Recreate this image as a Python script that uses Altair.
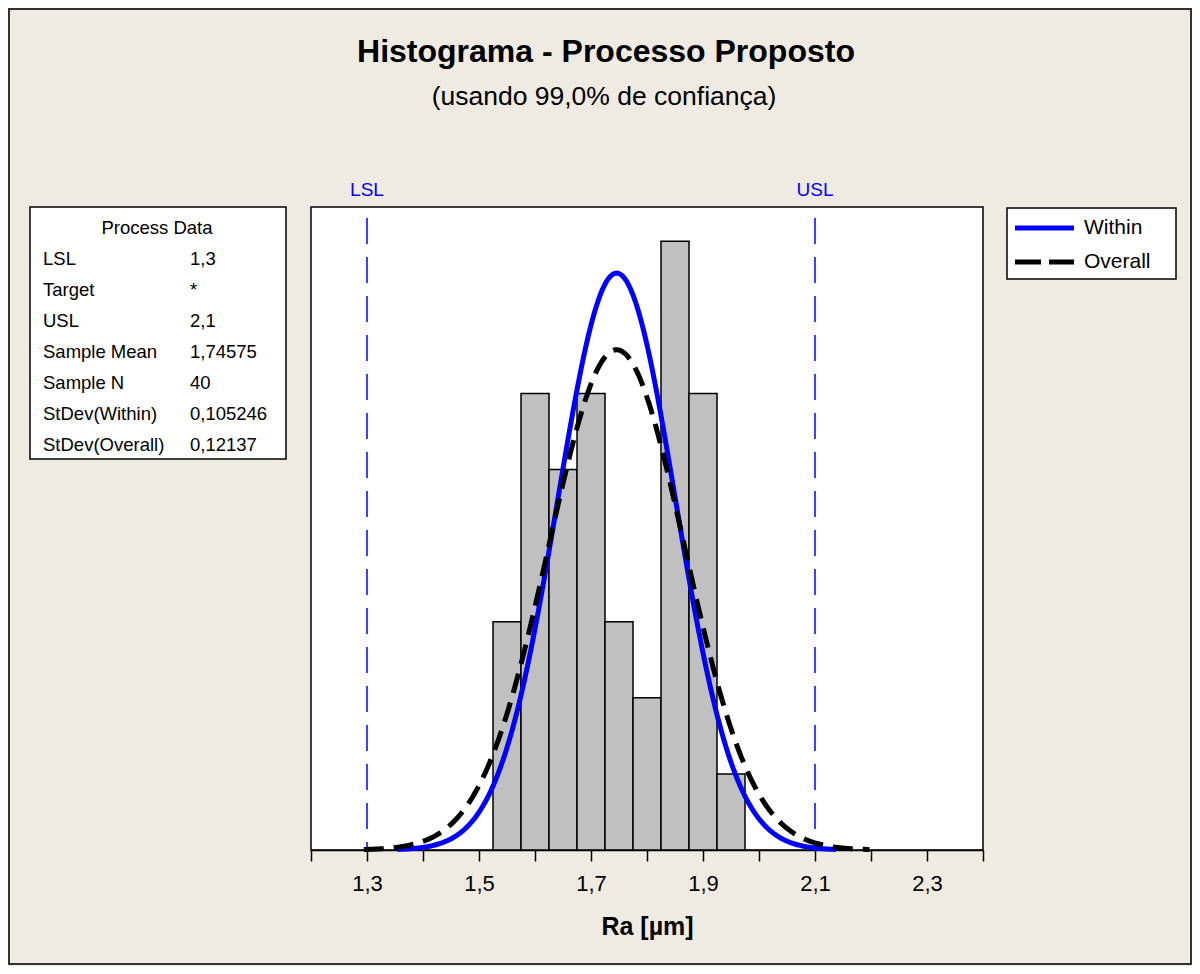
import altair as alt
import pandas as pd

# ---------------- data ----------------
bin_starts = [1.525, 1.575, 1.625, 1.675, 1.725, 1.775, 1.825, 1.875, 1.925]
bin_width = 0.05
counts = [3, 6, 5, 6, 3, 2, 8, 6, 1]

spec_names = ["LSL", "USL"]
spec_values = [1.3, 2.1]

sample_mean = 1.74575
sample_n = 40
sd_within = 0.105246
sd_overall = 0.12137

x_ticks = [1.2, 1.3, 1.4, 1.5, 1.6, 1.7, 1.8, 1.9, 2.0, 2.1, 2.2, 2.3, 2.4]

table_header = "Process Data"
table_labels = ["LSL", "Target", "USL", "Sample Mean", "Sample N",
                "StDev(Within)", "StDev(Overall)"]
table_values = ["1,3", "*", "2,1", "1,74575", "40", "0,105246", "0,12137"]

legend_names = ["Within", "Overall"]

title_text = "Histograma - Processo Proposto"
subtitle_text = "(usando 99,0% de confiança)"
x_title = "Ra [µm]"

FONT = "Liberation Sans"
BLUE = "#0000FF"
W, H = 672, 643

bars_df = pd.DataFrame({
    "start": bin_starts,
    "end": [b + bin_width for b in bin_starts],
    "count": counts,
})
spec_df = pd.DataFrame({"name": spec_names, "value": spec_values})
one = pd.DataFrame({"k": [0]})

xscale = alt.Scale(domain=[1.2, 2.4], nice=False, zero=False)
yscale = alt.Scale(domain=[0, 8.45], nice=False, zero=True)

xaxis = alt.Axis(
    values=x_ticks,
    labelExpr="round(datum.value*10) % 2 == 1 ? replace(format(datum.value, '.1f'), '.', ',') : ''",
    labelOverlap=False, labelFlush=False,
    grid=False, domainColor="black", domainWidth=1.5,
    tickColor="black", tickWidth=1.5, tickSize=11,
    labelFontSize=22, labelColor="black", labelPadding=12, labelFont=FONT,
    title=x_title, titleFontSize=25, titleFontWeight="bold", titleColor="black",
    titleFont=FONT, titlePadding=20,
)

bars = alt.Chart(bars_df).mark_rect(
    fill="#C0C0C0", stroke="black", strokeWidth=1.5
).encode(
    x=alt.X("start:Q", scale=xscale, axis=xaxis),
    x2="end:Q",
    y=alt.Y("count:Q", scale=yscale, axis=None),
    y2=alt.datum(0),
)

spec_lines = alt.Chart(spec_df).mark_rule(
    color=BLUE, strokeWidth=1.5, strokeDash=[26, 13], strokeDashOffset=28
).encode(x="value:Q")

spec_text = alt.Chart(spec_df).mark_text(
    color=BLUE, fontSize=19, font=FONT, baseline="middle", align="center"
).encode(x="value:Q", y=alt.value(-17), text="name:N")


def curve(sd, **mark):
    k = 3.72
    return alt.Chart(alt.sequence(0, 1.0001, 0.002, as_="t")).transform_calculate(
        xv=f"{sample_mean} + (2*datum.t - 1)*{k}*{sd}"
    ).transform_calculate(
        dens=f"{sample_n*bin_width}/({sd}*sqrt(2*PI))*exp(-0.5*pow((datum.xv-{sample_mean})/{sd}, 2))"
    ).mark_line(**mark).encode(
        x="xv:Q", y="dens:Q", order="t:Q"
    )


within = curve(sd_within, color=BLUE, strokeWidth=5)
overall = curve(sd_overall, color="black", strokeWidth=5, strokeDash=[20, 10], strokeCap="butt")

# ---- titles ----
title = alt.Chart(one).mark_text(
    text=title_text, fontSize=32, fontWeight="bold", font=FONT, color="black",
    baseline="middle", align="center"
).encode(x=alt.value(295), y=alt.value(-155))
subtitle = alt.Chart(one).mark_text(
    text=subtitle_text, fontSize=26.5, font=FONT, color="black",
    baseline="middle", align="center"
).encode(x=alt.value(293), y=alt.value(-110))

# ---- outer frame ----
outer = alt.Chart(one).mark_rect(fillOpacity=0, stroke="#333333", strokeWidth=2).encode(
    x=alt.value(-302), x2=alt.value(880), y=alt.value(-198), y2=alt.value(757)
)

# ---- process data box ----
pbox = alt.Chart(one).mark_rect(fill="white", stroke="black", strokeWidth=1.5).encode(
    x=alt.value(-281), x2=alt.value(-25), y=alt.value(0), y2=alt.value(252)
)
phead = alt.Chart(one).mark_text(
    text=table_header, fontSize=18.5, font=FONT, color="black", align="center",
    baseline="alphabetic"
).encode(x=alt.value(-154), y=alt.value(27))
plabels = alt.Chart(one).mark_text(
    text=table_labels, fontSize=18.5, font=FONT, color="black", align="left",
    baseline="alphabetic", lineHeight=31
).encode(x=alt.value(-268), y=alt.value(58))
pvalues = alt.Chart(one).mark_text(
    text=table_values, fontSize=18.5, font=FONT, color="black", align="left",
    baseline="alphabetic", lineHeight=31
).encode(x=alt.value(-121), y=alt.value(58))

# ---- legend ----
lbox = alt.Chart(one).mark_rect(fill="white", stroke="black", strokeWidth=1.5).encode(
    x=alt.value(696), x2=alt.value(865), y=alt.value(1), y2=alt.value(72)
)
lwithin = alt.Chart(one).mark_rule(color=BLUE, strokeWidth=5).encode(
    x=alt.value(704), x2=alt.value(763), y=alt.value(21)
)
loverall = alt.Chart(one).mark_rule(color="black", strokeWidth=5, strokeDash=[26, 8], strokeCap="butt").encode(
    x=alt.value(704), x2=alt.value(763), y=alt.value(55)
)
ltext1 = alt.Chart(one).mark_text(
    text=legend_names[0], fontSize=21, font=FONT, color="black", align="left", baseline="middle"
).encode(x=alt.value(773), y=alt.value(21))
ltext2 = alt.Chart(one).mark_text(
    text=legend_names[1], fontSize=21, font=FONT, color="black", align="left", baseline="middle"
).encode(x=alt.value(773), y=alt.value(55))

chart = alt.layer(
    outer, bars, spec_lines, spec_text, within, overall,
    title, subtitle, pbox, phead, plabels, pvalues,
    lbox, lwithin, loverall, ltext1, ltext2,
).properties(
    width=W, height=H,
    autosize=alt.AutoSizeParams(type="none"),
    padding={"left": 303, "top": 199, "right": 209, "bottom": 116},
    background="#EFEBE2",
).configure(
    font=FONT
).configure_view(
    fill="white", stroke="black", strokeWidth=1.5
)

chart.save("out.html", embed_options={"renderer": "svg", "actions": False})
